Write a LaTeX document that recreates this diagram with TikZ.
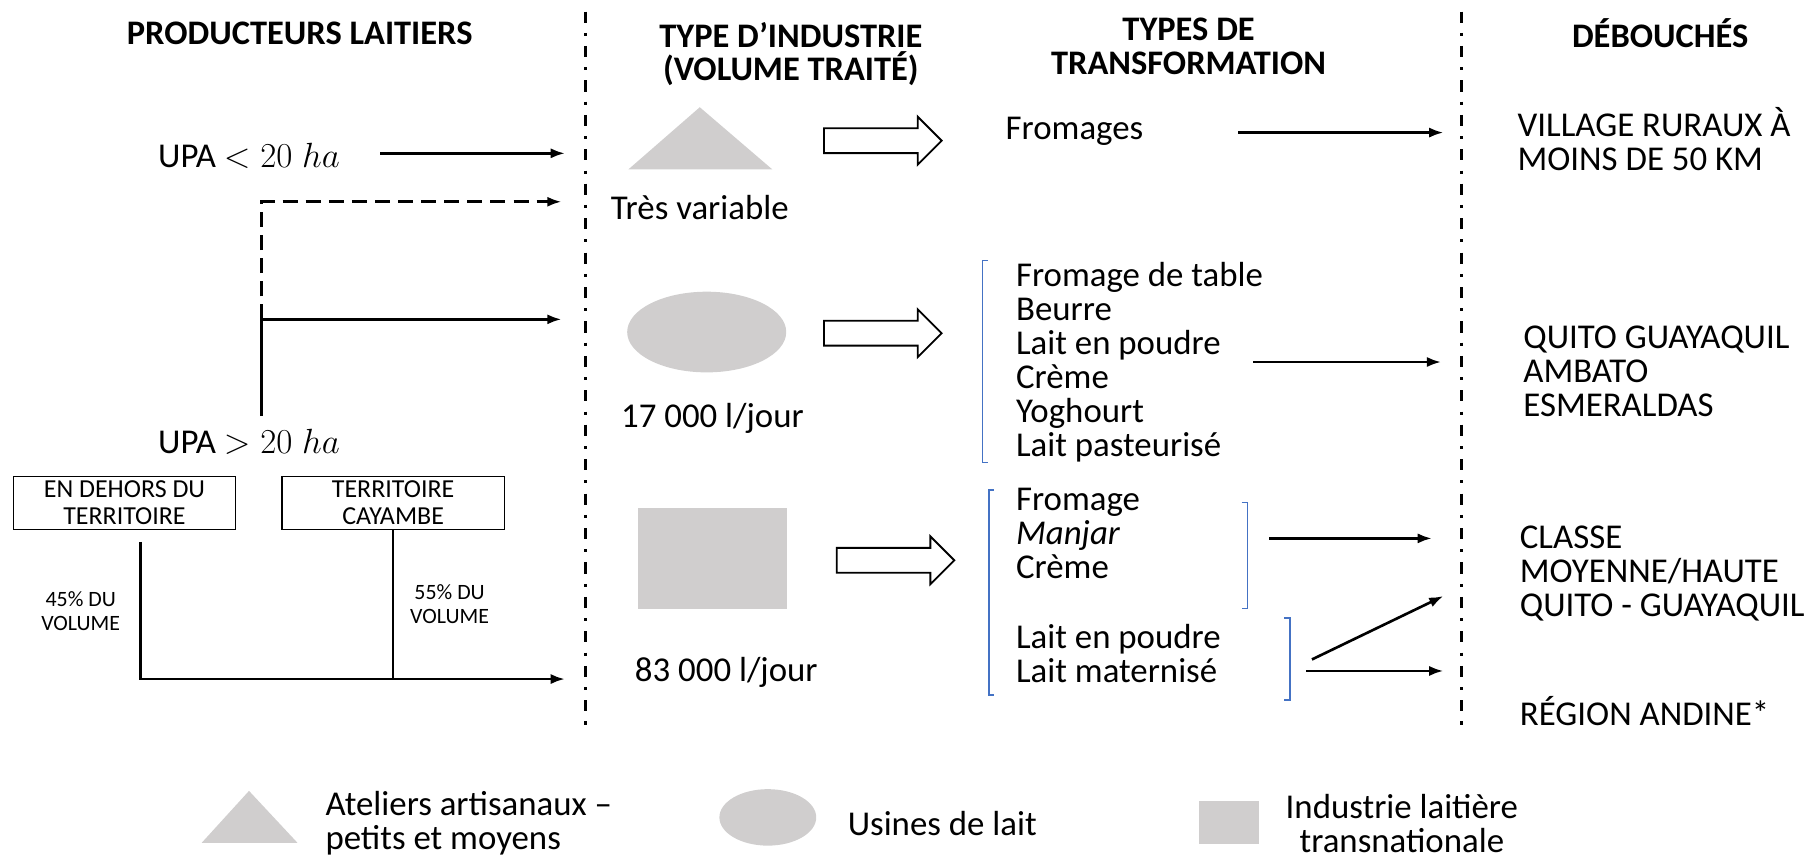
\documentclass[tikz,border=0pt]{standalone}
\usepackage{fontspec}
\setmainfont{Carlito}
\usetikzlibrary{arrows.meta,shapes.geometric,shapes.arrows,positioning}
\definecolor{grisforme}{RGB}{208,206,206}
\definecolor{bleucrochet}{RGB}{68,114,196}
\tikzset{
	>={Latex[length=7pt,width=5pt]},
	every node/.style={font=\fontsize{17.2}{16.8}\selectfont},
	titre/.style={font=\bfseries\fontsize{17}{16.5}\selectfont, align=center},
	liste/.style={anchor=west, align=left, inner sep=0pt},
	boite/.style={draw, line width=0.6pt, minimum width=3.86cm, minimum height=0.92cm,
		inner sep=0pt, align=center, font=\fontsize{12.8}{13.8}\selectfont},
	petit/.style={align=center, font=\fontsize{10.8}{12}\selectfont},
	fleche/.style={->, line width=1.3pt},
	pointille/.style={dash pattern=on 7.4pt off 4pt},
	separ/.style={line width=1.5pt, dash pattern=on 5.5pt off 5pt on 1.5pt off 5pt},
	forme/.style={fill=grisforme, draw=none, inner sep=0pt},
	crochet/.style={draw=bleucrochet, line width=0.7pt},
	bloc/.style={single arrow, draw, line width=0.9pt, anchor=tail, inner sep=0.2cm,
		minimum height=2.04cm, single arrow head extend=0.2cm, single arrow tip angle=90},
}

\begin{document}
\begin{tikzpicture}[x=0.02cm, y=-0.02cm]
	\useasboundingbox (0,0) rectangle (1570,745);

	% titres des colonnes
	\node[titre] (t1) at (260,29) {PRODUCTEURS LAITIERS};
	\node[titre] (t2) at (686,47) {TYPE D’INDUSTRIE\\(VOLUME TRAITÉ)};
	\node[titre] (t3) at (1031,40) {TYPES DE\\TRANSFORMATION};
	\node[titre] (t4) at (1440,29) {DÉBOUCHÉS};

	% separateurs
	\coordinate (s1h) at (508,10);
	\coordinate (s1b) at (508,632);
	\coordinate (s2h) at (1268,10);
	\coordinate (s2b) at (1268,632);
	\draw[separ] (s1h) -- (s1b);
	\draw[separ] (s2h) -- (s2b);

	% producteurs
	\node (upa1) at (216,135) {UPA $< 20\;ha$};
	\node (upa2) at (216,383) {UPA $> 20\;ha$};
	\node[boite] (b1) at (108,436) {EN DEHORS DU\\TERRITOIRE};
	\node[boite] (b2) at (341,436) {TERRITOIRE\\CAYAMBE};
	\node[petit] (v45) at (70,530) {45\% DU\\VOLUME};
	\node[petit] (v55) at (390,524) {55\% DU\\VOLUME};

	\coordinate (d0) at (330,133);
	\coordinate (e1) at (490,133);
	\coordinate (e2) at (487,175);
	\coordinate (e3) at (487,277);
	\coordinate (e4) at (490,589);
	\coordinate (j) at (227,277);
	\coordinate (k) at (227,361);
	\coordinate (g) at (122,470);
	\draw[fleche] (d0) -- (e1);
	\draw[fleche, pointille] (j) |- (e2);
	\draw[fleche] (k) |- (e3);
	\draw[fleche] (g) |- (e4);
	\draw[line width=1.3pt] (b2.south) -- (b2.south |- e4);

	% type d'industrie
	\fill[grisforme] (545,147) -- (607,93) -- (670,147) -- cycle;
	\node (vol1) at (607,180) {Très variable};
	\node[forme, ellipse, minimum width=2.76cm, minimum height=1.4cm] (usine) at (613,288) {};
	\node (vol2) at (618,363) {17 000 l/jour};
	\node[forme, minimum width=2.6cm, minimum height=1.74cm] (indus) at (618,484.5) {};
	\node (vol3) at (630,583) {83 000 l/jour};

	\node[bloc] (f1) at (714,122) {};
	\node[bloc] (f2) at (714,289) {};
	\node[bloc] (f3) at (725,486) {};

	% types de transformation
	\node[liste] (l1) at (872,114) {Fromages};
	\node[liste] (l2) at (881,314) {Fromage de table\\Beurre\\Lait en poudre\\Crème\\Yoghourt\\Lait pasteurisé};
	\node[liste] (l3) at (881,463) {Fromage\\\textit{Manjar}\\Crème};
	\node[liste] (l4) at (881,566.5) {Lait en poudre\\Lait maternisé};

	\draw[crochet] (857,226) -- (852,226) -- (852,401) -- (857,401);
	\draw[crochet] (862,425) -- (858,425) -- (858,603) -- (862,603);
	\draw[crochet] (1077,436) -- (1082,436) -- (1082,528) -- (1077,528);
	\draw[crochet] (1114,536) -- (1119,536) -- (1119,607) -- (1114,607);

	\coordinate (d1) at (1074,115);
	\coordinate (a1) at (1252,115);
	\coordinate (d2) at (1087,314);
	\coordinate (a2) at (1250,314);
	\coordinate (d3) at (1101,467);
	\coordinate (a3) at (1242,467);
	\coordinate (d4) at (1138,572);
	\coordinate (a4) at (1252,517);
	\coordinate (d5) at (1133,582);
	\coordinate (a5) at (1252,582);
	\draw[fleche] (d1) -- (a1);
	\draw[fleche] (d2) -- (a2);
	\draw[fleche] (d3) -- (a3);
	\draw[fleche] (d4) -- (a4);
	\draw[fleche] (d5) -- (a5);

	% debouches
	\node[liste] (m1) at (1316,120.5) {VILLAGE RURAUX À\\MOINS DE 50 KM};
	\node[liste] (m2) at (1321,322) {QUITO GUAYAQUIL\\AMBATO\\ESMERALDAS};
	\node[liste] (m3) at (1318,497.5) {CLASSE\\MOYENNE/HAUTE\\QUITO - GUAYAQUIL};
	\node[liste] (m4) at (1318,617) {RÉGION ANDINE*};

	% legende
	\fill[grisforme] (175,731) -- (216,686) -- (258,731) -- cycle;
	\node[liste] (leg1) at (282,714) {Ateliers artisanaux –\\petits et moyens};
	\node[forme, ellipse, minimum width=1.68cm, minimum height=0.98cm] (leg2f) at (666,709) {};
	\node[liste] (leg2) at (735,714) {Usines de lait};
	\node[forme, minimum width=1.04cm, minimum height=0.74cm] (leg3f) at (1066,713.5) {};
	\node[align=center] (leg3) at (1216,714) {Industrie laitière\\transnationale};
\end{tikzpicture}
\end{document}
